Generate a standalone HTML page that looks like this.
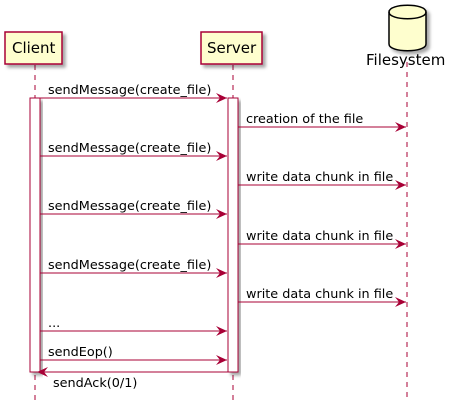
<!DOCTYPE html>
<html><head><style>body{margin:0;background:#fff}svg{display:block}text{font-family:"DejaVu Sans","Liberation Sans",sans-serif;fill:#000}</style></head>
<body>
<svg width="449" height="413" viewBox="0 0 449 413" xmlns="http://www.w3.org/2000/svg">
<defs>
<filter id="sh" x="-20%" y="-20%" width="150%" height="150%"><feDropShadow dx="3" dy="3" stdDeviation="1.5" flood-color="#000" flood-opacity="0.35"/></filter>
<marker id="ar" viewBox="0 0 12 10" refX="11" refY="5" markerWidth="12" markerHeight="10" markerUnits="userSpaceOnUse" orient="auto"><path d="M0,0 L11,5 L0,10 L4,5 Z" fill="#A80036"/></marker>
</defs>
<g stroke="#A80036" stroke-dasharray="5,5" stroke-width="1">
<line x1="35" y1="65" x2="35" y2="402"/>
<line x1="233" y1="65" x2="233" y2="402"/>
<line x1="407" y1="62" x2="407" y2="402"/>
</g>
<rect x="5" y="32" width="57" height="32" fill="#FEFECE" stroke="#A80036" stroke-width="1.5" filter="url(#sh)"/>
<text x="12" y="53" font-size="15">Client</text>
<rect x="201" y="32" width="61" height="32" fill="#FEFECE" stroke="#A80036" stroke-width="1.5" filter="url(#sh)"/>
<text x="207" y="53" font-size="15">Server</text>
<g filter="url(#sh)">
<path d="M389,12 C389,3 426,3 426,12 L426,44 C426,53 389,53 389,44 Z" fill="#FEFECE" stroke="#000" stroke-width="1.5"/>
<path d="M389,12 C389,21 426,21 426,12" fill="none" stroke="#000" stroke-width="1.5"/>
</g>
<text x="366" y="65" font-size="15">Filesystem</text>
<rect x="30" y="98" width="10" height="274" fill="#fff" stroke="#A80036" filter="url(#sh)"/>
<rect x="228" y="98" width="10" height="274" fill="#fff" stroke="#A80036" filter="url(#sh)"/>
<g stroke="#A80036" stroke-width="1" marker-end="url(#ar)">
<line x1="35" y1="98" x2="227" y2="98"/>
<line x1="238" y1="127" x2="406" y2="127"/>
<line x1="40" y1="156" x2="227" y2="156"/>
<line x1="238" y1="185" x2="406" y2="185"/>
<line x1="40" y1="214" x2="227" y2="214"/>
<line x1="238" y1="244" x2="406" y2="244"/>
<line x1="40" y1="273" x2="227" y2="273"/>
<line x1="238" y1="302" x2="406" y2="302"/>
<line x1="40" y1="331" x2="227" y2="331"/>
<line x1="40" y1="360" x2="227" y2="360"/>
<line x1="228" y1="372" x2="37" y2="372"/>
</g>
<g font-size="12.8">
<text x="48" y="94">sendMessage(create_file)</text>
<text x="246" y="123">creation of the file</text>
<text x="48" y="152">sendMessage(create_file)</text>
<text x="246" y="181">write data chunk in file</text>
<text x="48" y="210">sendMessage(create_file)</text>
<text x="246" y="240">write data chunk in file</text>
<text x="48" y="269">sendMessage(create_file)</text>
<text x="246" y="298">write data chunk in file</text>
<text x="48" y="327">...</text>
<text x="48" y="356">sendEop()</text>
<text x="53" y="387">sendAck(0/1)</text>
</g>
</svg>
</body></html>
